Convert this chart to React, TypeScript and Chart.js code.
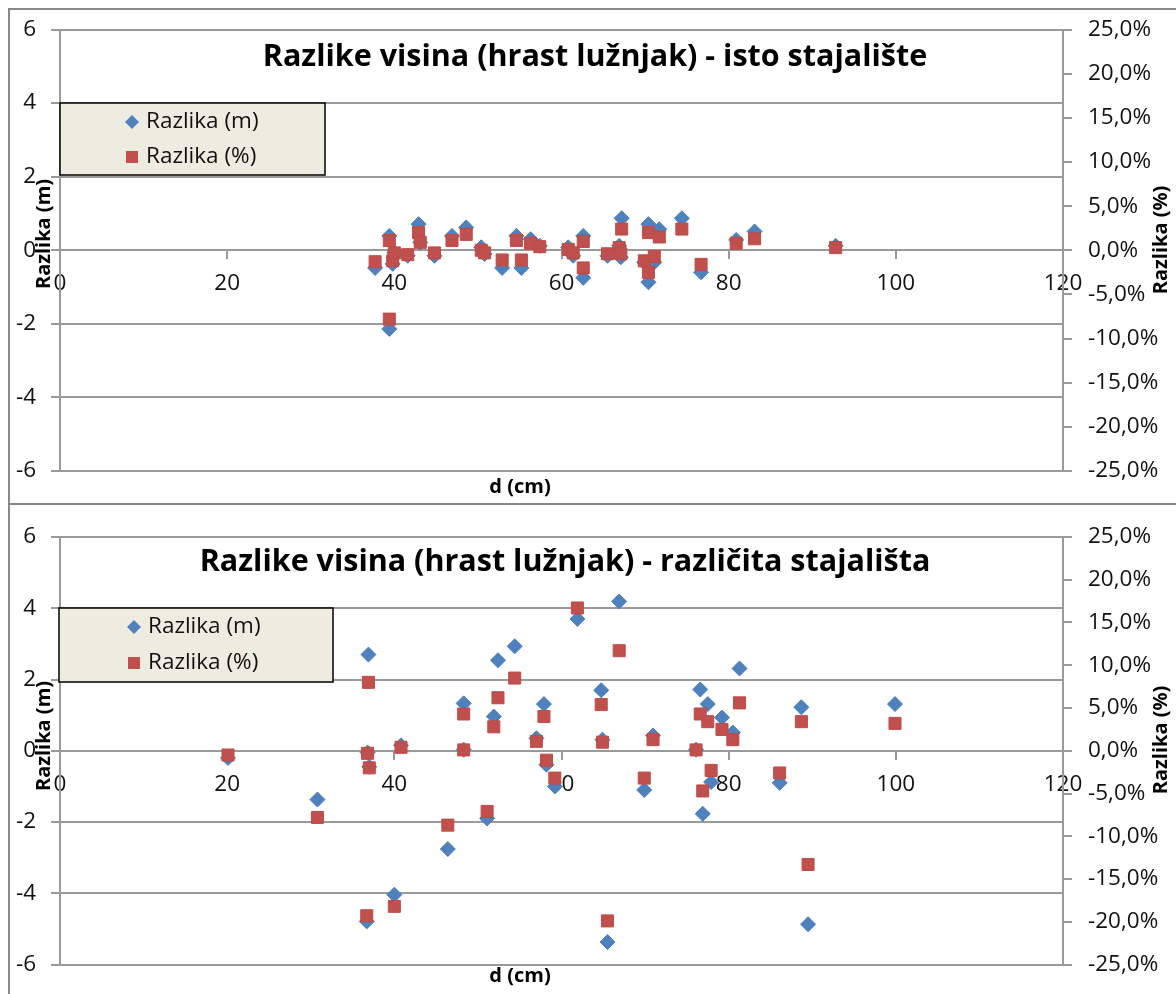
import React, { useEffect, useRef } from "react";
import { Chart, registerables } from "chart.js";

Chart.register(...registerables);

// ---------- texts ----------
const topTitle = "Razlike visina (hrast lužnjak) - isto stajalište";
const bottomTitle = "Razlike visina (hrast lužnjak) - različita stajališta";
const seriesNames = ["Razlika (m)", "Razlika (%)"];
const xTitle = "d (cm)";
const yLeftTitle = "Razlika (m)";
const yRightTitle = "Razlika (%)";

// ---------- data: same stand point ----------
const istoD = [37.7, 39.4, 39.8, 40.0, 39.4, 41.6, 42.9, 43.1, 44.8, 46.9, 48.6, 50.4, 50.8, 52.9, 54.6, 55.2, 56.3, 57.4, 60.8, 61.4, 62.6, 62.6, 65.5, 66.9, 67.1, 67.2, 69.9, 70.4, 70.4, 71.1, 71.7, 74.4, 76.7, 80.9, 83.1, 92.8];
const istoM = [-0.48, 0.39, -0.37, -0.06, -2.14, -0.15, 0.71, 0.21, -0.15, 0.39, 0.62, 0.08, -0.1, -0.48, 0.39, -0.48, 0.3, 0.12, 0.08, -0.15, 0.39, -0.75, -0.15, 0.12, -0.19, 0.87, -0.33, -0.87, 0.71, -0.33, 0.57, 0.87, -0.6, 0.28, 0.51, 0.12];
const istoPct = [-1.3, 1.1, -1.2, -0.3, -7.8, -0.5, 2.0, 0.9, -0.3, 1.1, 1.8, 0.0, -0.3, -1.1, 1.1, -1.1, 0.8, 0.4, 0.1, -0.3, 1.0, -2.0, -0.4, 0.3, -0.4, 2.4, -1.2, -2.5, 2.0, -0.7, 1.5, 2.4, -1.6, 0.8, 1.3, 0.3];

// ---------- data: different stand points ----------
const razlD = [20.1, 30.8, 36.7, 36.8, 36.9, 37.0, 40.0, 40.8, 46.4, 48.3, 48.3, 51.1, 51.9, 52.4, 54.4, 57.0, 57.9, 58.2, 59.2, 61.9, 64.75, 64.9, 65.5, 66.9, 69.9, 70.95, 76.1, 76.6, 76.9, 77.5, 77.9, 79.2, 80.5, 81.3, 86.1, 88.7, 89.5, 99.9];
const razlM = [-0.2, -1.37, -4.79, -0.05, 2.7, -0.45, -4.04, 0.15, -2.76, 1.33, 0.03, -1.9, 0.96, 2.54, 2.93, 0.35, 1.31, -0.39, -1.0, 3.7, 1.7, 0.31, -5.37, 4.19, -1.1, 0.43, 0.03, 1.72, -1.77, 1.31, -0.88, 0.93, 0.51, 2.31, -0.9, 1.22, -4.87, 1.31];
const razlPct = [-0.5, -7.8, -19.3, -0.3, 8.0, -2.0, -18.2, 0.4, -8.7, 4.3, 0.1, -7.1, 2.8, 6.2, 8.5, 1.1, 4.0, -1.1, -3.2, 16.7, 5.4, 1.0, -19.9, 11.7, -3.2, 1.3, 0.1, 4.3, -4.7, 3.4, -2.3, 2.5, 1.3, 5.6, -2.6, 3.4, -13.3, 3.2];

// ---------- axis ticks ----------
const xMin = 0, xMax = 120, xStep = 20;
const mMin = -6, mMax = 6, mStep = 2;
const pMin = -25, pMax = 25, pStep = 5;

const FONT = "'Open Sans', 'Noto Sans', sans-serif";
const GRID = "#9a9a9a";
const BLUE = "#4F81BD";
const RED = "#C0504D";

const overlayPlugin = {
  id: "overlay",
  afterDraw(chart: any, _args: any, o: any) {
    const ctx = chart.ctx as CanvasRenderingContext2D;
    ctx.save();
    // chart title
    ctx.fillStyle = "#000";
    ctx.font = `bold 30.5px ${FONT}`;
    ctx.textAlign = "center";
    ctx.textBaseline = "alphabetic";
    ctx.fillText(o.title, o.titleX, o.titleY, o.titleW);

    // axis titles
    ctx.font = `bold 20px ${FONT}`;
    ctx.textBaseline = "middle";
    ctx.fillText(xTitle, o.xtX, o.xtY);
    ctx.save();
    ctx.translate(o.ylX, o.ylY);
    ctx.rotate(-Math.PI / 2);
    ctx.fillText(yLeftTitle, 0, 0);
    ctx.restore();
    ctx.save();
    ctx.translate(o.yrX, o.yrY);
    ctx.rotate(-Math.PI / 2);
    ctx.fillText(yRightTitle, 0, 0);
    ctx.restore();

    // legend box
    const L = o.legend;
    ctx.fillStyle = "#EEECE1";
    ctx.fillRect(L.x, L.y, L.w, L.h);
    ctx.strokeStyle = "#000";
    ctx.lineWidth = 1.5;
    ctx.strokeRect(L.x, L.y, L.w, L.h);
    // diamond
    ctx.fillStyle = BLUE;
    ctx.beginPath();
    ctx.moveTo(L.mx, L.y1 - 7);
    ctx.lineTo(L.mx + 7, L.y1);
    ctx.lineTo(L.mx, L.y1 + 7);
    ctx.lineTo(L.mx - 7, L.y1);
    ctx.closePath();
    ctx.fill();
    // square
    ctx.fillStyle = RED;
    ctx.fillRect(L.mx - 6, L.y2 - 6, 12, 12);
    ctx.fillStyle = "#111";
    ctx.font = `22.5px ${FONT}`;
    ctx.textAlign = "left";
    ctx.textBaseline = "middle";
    ctx.fillText(seriesNames[0], L.tx, L.y1);
    ctx.fillText(seriesNames[1], L.tx, L.y2);
    ctx.restore();
  },
};

function makeConfig(d: number[], m: number[], p: number[], padTop: number, padBottom: number, overlay: any): any {
  const tickFont = { family: FONT, size: 22.5 };
  return {
    type: "scatter",
    data: {
      datasets: [
        {
          label: seriesNames[0],
          data: d.map((x, i) => ({ x, y: m[i] })),
          yAxisID: "y",
          pointStyle: "rectRot",
          pointRadius: 7.5,
          backgroundColor: BLUE,
          borderColor: "#4A7EBB",
          borderWidth: 1,
          order: 2,
        },
        {
          label: seriesNames[1],
          data: d.map((x, i) => ({ x, y: p[i] })),
          yAxisID: "y1",
          pointStyle: "rect",
          pointRadius: 8.5,
          backgroundColor: RED,
          borderColor: "#BE4B48",
          borderWidth: 1,
          order: 1,
        },
      ],
    },
    options: {
      responsive: false,
      animation: false,
      events: [],
      layout: { padding: { top: padTop, bottom: padBottom, left: 0, right: 0 } },
      plugins: {
        legend: { display: false },
        tooltip: { enabled: false },
        title: { display: false },
        overlay,
      },
      scales: {
        x: {
          type: "linear",
          min: xMin,
          max: xMax,
          position: { y: 0 },
          ticks: { stepSize: xStep, font: tickFont, color: "#111", padding: 12, maxRotation: 0, autoSkip: false },
          grid: { drawOnChartArea: false, tickLength: 8, color: GRID, lineWidth: 2 },
          border: { display: true, color: GRID, width: 2 },
        },
        y: {
          type: "linear",
          position: "left",
          min: mMin,
          max: mMax,
          ticks: { stepSize: mStep, font: tickFont, color: "#111", padding: 15 },
          grid: { color: GRID, lineWidth: 2, tickLength: 9 },
          border: { display: true, color: GRID, width: 2 },
          afterFit: (s: any) => {
            s.width = 60;
          },
        },
        y1: {
          type: "linear",
          position: "right",
          min: pMin,
          max: pMax,
          ticks: {
            stepSize: pStep,
            font: tickFont,
            color: "#111",
            padding: 16,
            callback: (v: any) => Number(v).toFixed(1).replace(".", ",") + "%",
          },
          grid: { drawOnChartArea: false, color: GRID, lineWidth: 2, tickLength: 9 },
          border: { display: true, color: GRID, width: 2 },
          afterFit: (s: any) => {
            s.width = 113;
          },
        },
      },
    },
    plugins: [overlayPlugin],
  };
}

function Panel(props: { top: number; height: number; config: any }) {
  const ref = useRef<HTMLCanvasElement | null>(null);
  useEffect(() => {
    if (!ref.current) return;
    const chart = new Chart(ref.current, props.config);
    return () => chart.destroy();
  }, []);
  return (
    <canvas
      ref={ref}
      width={1176}
      height={props.height}
      style={{ position: "absolute", left: 0, top: props.top, display: "block" }}
    />
  );
}

const topConfig = makeConfig(istoD, istoM, istoPct, 28, 33, {
  title: topTitle,
  titleX: 595,
  titleY: 66,
  titleW: 668,
  xtX: 520,
  xtY: 487,
  ylX: 44,
  ylY: 234,
  yrX: 1161,
  yrY: 240,
  legend: { x: 60, y: 103, w: 265, h: 72, mx: 132, tx: 146, y1: 122, y2: 157 },
});

const bottomConfig = makeConfig(razlD, razlM, razlPct, 33, 28, {
  title: bottomTitle,
  titleX: 565,
  titleY: 67,
  titleW: 732,
  xtX: 520,
  xtY: 472,
  ylX: 44,
  ylY: 232,
  yrX: 1161,
  yrY: 236,
  legend: { x: 59, y: 104, w: 274, h: 74, mx: 134, tx: 148, y1: 123, y2: 159 },
});

export default function App() {
  return (
    <div
      style={{
        position: "absolute",
        left: 0,
        top: 0,
        width: 1176,
        height: 994,
        overflow: "hidden",
        background: "#fff",
      }}
    >
      <div
        style={{
          position: "absolute",
          left: 8,
          top: 8,
          width: 1300,
          height: 497,
          border: "2px solid #888",
          boxSizing: "border-box",
        }}
      />
      <div
        style={{
          position: "absolute",
          left: 8,
          top: 503,
          width: 1300,
          height: 600,
          border: "2px solid #888",
          boxSizing: "border-box",
        }}
      />
      <Panel top={0} height={504} config={topConfig} />
      <Panel top={504} height={490} config={bottomConfig} />
    </div>
  );
}
